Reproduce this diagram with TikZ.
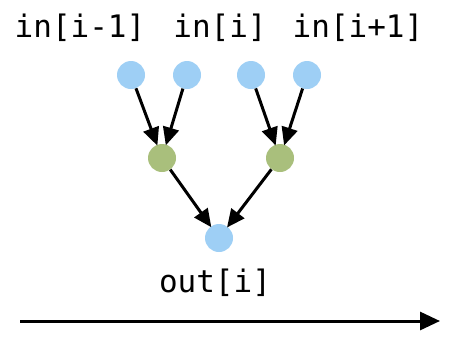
\documentclass[tikz,border=0pt]{standalone}
\usepackage{fontspec}
\setmonofont{DejaVu Sans Mono}
\usepackage{tikz}
\usetikzlibrary{arrows.meta}

\definecolor{inblue}{HTML}{9ECFF5}
\definecolor{midgreen}{HTML}{A9BF7C}

\tikzset{
    dot/.style={circle, inner sep=0pt, minimum size=28pt},
    lbl/.style={font=\fontsize{31}{31}\selectfont\ttfamily, inner sep=0pt},
    link/.style={line width=3pt, -{Triangle[length=18pt, width=16pt]}, shorten >=-1pt},
}

\begin{document}
\begin{tikzpicture}[x=1pt, y=-1pt]
    \useasboundingbox (0,0) rectangle (454,338);
    % Labels
    \node[lbl] (l0) at (80,28) {in[i-1]};
    \node[lbl] (l1) at (220,28) {in[i]};
    \node[lbl] (l2) at (358,28) {in[i+1]};
    % Input dots
    \node[dot, fill=inblue] (a) at (131,75) {};
    \node[dot, fill=inblue] (b) at (187,75) {};
    \node[dot, fill=inblue] (c) at (251,75) {};
    \node[dot, fill=inblue] (d) at (307,75) {};
    % Middle dots
    \node[dot, fill=midgreen] (p) at (162,158) {};
    \node[dot, fill=midgreen] (q) at (280,158) {};
    % Output dot
    \node[dot, fill=inblue] (o) at (219,238) {};
    \node[lbl] (lo) at (215,283) {out[i]};
    % Edges
    \draw[link] (a) -- (p);
    \draw[link] (b) -- (p);
    \draw[link] (c) -- (q);
    \draw[link] (d) -- (q);
    \draw[link] (p) -- (o);
    \draw[link] (q) -- (o);
    % Time axis
    \coordinate (t0) at (20,321);
    \coordinate (t1) at (440,321);
    \draw[line width=3pt, -{Triangle[length=20pt, width=18pt]}] (t0) -- (t1);
\end{tikzpicture}
\end{document}
